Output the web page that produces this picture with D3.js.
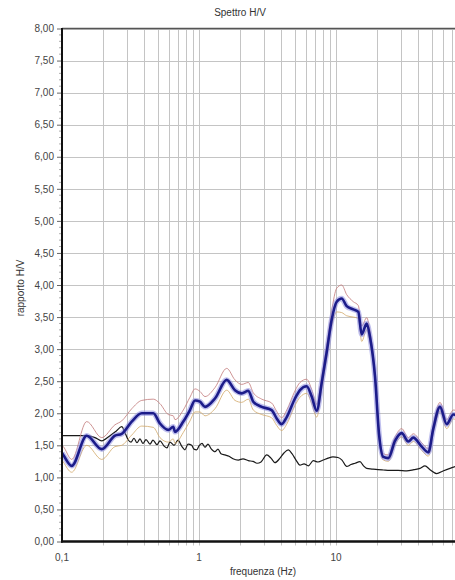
<!DOCTYPE html>
<html>
<head>
<meta charset="utf-8">
<script src="https://cdn.jsdelivr.net/npm/d3@7"></script>
<style>
  body { margin: 0; background: #fff; }
  svg { display: block; font-family: "Liberation Sans", Arial, sans-serif; }
</style>
</head>
<body>
<svg id="chart" width="455" height="580"></svg>
<script>
// H/V spectral ratio: mean curve with upper/lower standard-deviation bounds
const hvFreq = [0.1, 0.1022, 0.1177, 0.1515, 0.195, 0.2437, 0.2728, 0.3227, 0.3817, 0.4638,
  0.519, 0.597, 0.649, 0.668, 0.768, 0.859, 0.935, 1.017, 1.106, 1.308,
  1.593, 1.831, 2.05, 2.29, 2.49, 2.87, 3.39, 3.69, 4.01, 4.37,
  5.02, 5.46, 6.11, 6.65, 7.23, 7.86, 8.55, 9.30, 10.12, 11.0,
  11.97, 13.37, 14.55, 15.40, 16.75, 17.71, 19.27, 20.6, 22.14, 24.09,
  26.96, 30.18, 33.71, 36.66, 42.23, 47.19, 51.32, 57.43, 64.27, 71.81, 80.4];
const hvMean = [1.38, 1.35, 1.18, 1.65, 1.44, 1.65, 1.68, 1.87, 2.00, 2.00,
  1.84, 1.74, 1.79, 1.71, 1.87, 2.05, 2.20, 2.18, 2.10, 2.23,
  2.52, 2.36, 2.31, 2.35, 2.18, 2.10, 2.05, 1.92, 1.83, 1.94,
  2.23, 2.36, 2.42, 2.26, 2.04, 2.47, 2.95, 3.46, 3.74, 3.79,
  3.67, 3.62, 3.58, 3.23, 3.40, 3.19, 2.57, 1.68, 1.32, 1.30,
  1.57, 1.69, 1.56, 1.62, 1.48, 1.39, 1.76, 2.10, 1.83, 1.98, 1.95];
const hvUpper = [1.50, 1.48, 1.28, 1.87, 1.62, 1.82, 1.88, 2.07, 2.20, 2.22,
  2.15, 1.98, 1.96, 1.90, 2.05, 2.25, 2.38, 2.34, 2.26, 2.40,
  2.70, 2.52, 2.45, 2.48, 2.32, 2.22, 2.16, 2.03, 1.93, 2.05,
  2.35, 2.48, 2.53, 2.37, 2.14, 2.57, 3.06, 3.60, 3.95, 4.00,
  3.85, 3.74, 3.68, 3.36, 3.49, 3.28, 2.64, 1.74, 1.37, 1.35,
  1.63, 1.76, 1.62, 1.68, 1.54, 1.45, 1.83, 2.17, 1.90, 2.05, 2.02];
const hvLower = [1.27, 1.24, 1.08, 1.50, 1.28, 1.48, 1.50, 1.66, 1.80, 1.78,
  1.62, 1.55, 1.60, 1.53, 1.70, 1.88, 2.02, 2.02, 1.96, 2.07,
  2.36, 2.20, 2.17, 2.22, 2.05, 1.98, 1.93, 1.81, 1.73, 1.83,
  2.12, 2.25, 2.31, 2.15, 1.94, 2.37, 2.85, 3.35, 3.58, 3.57,
  3.52, 3.50, 3.48, 3.12, 3.30, 3.10, 2.50, 1.62, 1.27, 1.25,
  1.51, 1.63, 1.50, 1.56, 1.42, 1.33, 1.69, 2.03, 1.76, 1.91, 1.88];

// Second (black) curve
const refFreq = [0.1, 0.1244, 0.152, 0.174, 0.195, 0.224, 0.248, 0.273, 0.288, 0.303,
  0.3187, 0.3354, 0.3527, 0.371, 0.3902, 0.4104, 0.4388, 0.4615, 0.4935, 0.519,
  0.555, 0.584, 0.614, 0.657, 0.7025, 0.7515, 0.79, 0.8312, 0.8846, 0.919,
  0.9621, 1.0, 1.052, 1.106, 1.1633, 1.2232, 1.308, 1.376, 1.447, 1.548,
  1.656, 1.771, 1.936, 2.095, 2.29, 2.479, 2.652, 2.836, 3.12, 3.354,
  3.587, 3.901, 4.172, 4.486, 4.773, 5.105, 5.46, 5.84, 6.28, 6.829,
  7.389, 8.076, 8.741, 9.508, 10.34, 11.06, 11.97, 12.87, 13.76, 14.97,
  15.88, 16.75, 18.31, 20.26, 22.14, 24.79, 28.36, 32.82, 37.10, 41.03,
  44.62, 48.55, 54.33, 60.39, 67.94, 75.13, 87.4];
const refValues = [1.65, 1.65, 1.65, 1.62, 1.57, 1.65, 1.72, 1.79, 1.70, 1.59,
  1.55, 1.61, 1.54, 1.60, 1.53, 1.59, 1.52, 1.58, 1.51, 1.57,
  1.49, 1.46, 1.55, 1.50, 1.58, 1.48, 1.43, 1.52, 1.50, 1.44,
  1.43, 1.49, 1.53, 1.47, 1.52, 1.45, 1.40, 1.44, 1.37, 1.35,
  1.33, 1.29, 1.27, 1.29, 1.26, 1.25, 1.22, 1.24, 1.35, 1.30,
  1.23, 1.30, 1.38, 1.43, 1.37, 1.27, 1.19, 1.21, 1.18, 1.26,
  1.24, 1.27, 1.30, 1.32, 1.31, 1.27, 1.17, 1.20, 1.22, 1.245,
  1.18, 1.14, 1.13, 1.12, 1.115, 1.11, 1.11, 1.10, 1.12, 1.14,
  1.18, 1.12, 1.06, 1.10, 1.14, 1.17, 1.15];

const yTickValues = [0, 0.5, 1, 1.5, 2, 2.5, 3, 3.5, 4, 4.5, 5, 5.5, 6, 6.5, 7, 7.5, 8];
const xLabelValues = [0.1, 1, 10];
const xLabelTexts = ["0,1", "1", "10"];

const svg = d3.select("#chart");
const plotLeft = 62, plotRight = 473, plotTop = 28.5, plotBottom = 541.5;

const x = d3.scaleLog().domain([0.1, 100]).range([plotLeft, plotRight]);
const y = d3.scaleLinear().domain([0, 8]).range([plotBottom, plotTop]);

// vertical grid at every 1..9 multiple of each decade
const gridX = [];
[0.1, 1, 10].forEach(d => { for (let k = 1; k <= 9; k++) gridX.push(+(d * k).toPrecision(3)); });
gridX.push(100);

svg.append("g")
  .selectAll("line")
  .data(gridX.filter(v => v > 0.1))
  .join("line")
  .attr("x1", d => Math.round(x(d)) + 0.5).attr("x2", d => Math.round(x(d)) + 0.5)
  .attr("y1", plotTop).attr("y2", plotBottom + 4)
  .attr("stroke", "#c4c4c4").attr("stroke-width", 1);

svg.append("g")
  .selectAll("line")
  .data(yTickValues.filter(v => v > 0))
  .join("line")
  .attr("x1", plotLeft).attr("x2", plotRight)
  .attr("y1", d => Math.round(y(d)) + 0.5).attr("y2", d => Math.round(y(d)) + 0.5)
  .attr("stroke", "#c4c4c4").attr("stroke-width", 1);

// y axis with comma decimals
const yAxis = d3.axisLeft(y).tickValues(yTickValues).tickSize(5).tickPadding(3)
  .tickFormat(d => d3.format(".2f")(d).replace(".", ","));
const gy = svg.append("g").attr("transform", `translate(${plotLeft},0)`).call(yAxis);
gy.select(".domain").remove();
gy.selectAll("line").attr("stroke", "#666");
gy.selectAll("text").attr("font-size", 10).attr("fill", "#444")
  .attr("font-family", '"Liberation Sans", Arial, sans-serif');

// minor y ticks
svg.append("g")
  .selectAll("line")
  .data(d3.range(1, 80).filter(i => i % 5 !== 0).map(i => i / 10))
  .join("line")
  .attr("x1", plotLeft - 3).attr("x2", plotLeft)
  .attr("y1", d => y(d)).attr("y2", d => y(d))
  .attr("stroke", "#999").attr("stroke-width", 0.8);

// x labels
svg.append("g")
  .selectAll("text")
  .data(xLabelValues)
  .join("text")
  .attr("x", d => x(d)).attr("y", 561)
  .attr("text-anchor", "middle").attr("font-size", 10).attr("fill", "#444")
  .text((d, i) => xLabelTexts[i]);

// curves, clipped to the plot area
svg.append("clipPath").attr("id", "plotClip")
  .append("rect").attr("x", plotLeft).attr("y", plotTop)
  .attr("width", plotRight - plotLeft).attr("height", plotBottom - plotTop);
const plot = svg.append("g").attr("clip-path", "url(#plotClip)");

const line = (fr, vals) => d3.line()
  .x((d, i) => x(fr[i])).y(d => y(d))
  .curve(d3.curveMonotoneX)(vals);

plot.append("path").attr("d", line(refFreq, refValues))
  .attr("fill", "none").attr("stroke", "#1a1a1a").attr("stroke-width", 1.2);

plot.append("path").attr("d", line(hvFreq, hvUpper))
  .attr("fill", "none").attr("stroke", "#c27878").attr("stroke-width", 0.8);
plot.append("path").attr("d", line(hvFreq, hvLower))
  .attr("fill", "none").attr("stroke", "#d2a868").attr("stroke-width", 0.8);

plot.append("path").attr("d", line(hvFreq, hvMean))
  .attr("fill", "none").attr("stroke", "#8c8ce0").attr("stroke-opacity", 0.55).attr("stroke-width", 5.5);
plot.append("path").attr("d", line(hvFreq, hvMean))
  .attr("fill", "none").attr("stroke", "#1c1c8a").attr("stroke-width", 2.6);

// frame: thick left and bottom axes, thinner top border
svg.append("line").attr("x1", plotLeft).attr("x2", plotRight).attr("y1", plotTop).attr("y2", plotTop)
  .attr("stroke", "#555").attr("stroke-width", 1.5);
svg.append("line").attr("x1", plotLeft).attr("x2", plotLeft).attr("y1", plotTop - 0.5).attr("y2", plotBottom + 1)
  .attr("stroke", "#111").attr("stroke-width", 2);
svg.append("line").attr("x1", plotLeft - 1).attr("x2", plotRight).attr("y1", plotBottom).attr("y2", plotBottom)
  .attr("stroke", "#111").attr("stroke-width", 2.5);

// titles
svg.append("text").attr("x", 240).attr("y", 16).attr("text-anchor", "middle")
  .attr("font-size", 10).attr("fill", "#333").text("Spettro H/V");
svg.append("text").attr("x", 263).attr("y", 575).attr("text-anchor", "middle")
  .attr("font-size", 10).attr("fill", "#333").text("frequenza (Hz)");
svg.append("text").attr("transform", `translate(24,${(plotTop + plotBottom) / 2 + 3}) rotate(-90)`)
  .attr("text-anchor", "middle").attr("font-size", 10).attr("fill", "#333").text("rapporto H/V");
</script>
</body>
</html>
